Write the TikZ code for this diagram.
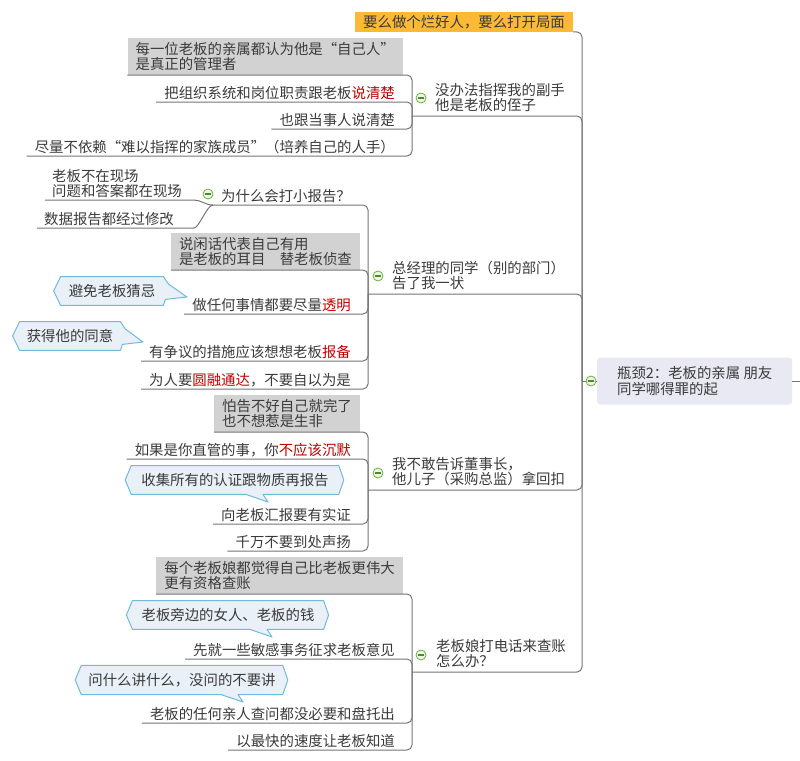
\documentclass[tikz,border=0pt]{standalone}
\usepackage{fontspec}
\usetikzlibrary{positioning,calc,backgrounds}
\newfontfamily\cjk{Noto Sans CJK SC}
\newfontfamily\cjkwide[RawFeature=+fwid]{Noto Sans CJK SC}
\newcommand\fwq[1]{{\cjkwide #1}}

\definecolor{linegray}{HTML}{747474}
\definecolor{txtgray}{HTML}{3A3A3A}
\definecolor{hl}{HTML}{C00000}
\definecolor{boxgray}{HTML}{D1D2D1}
\definecolor{orangefill}{HTML}{FBB936}
\definecolor{rootfill}{HTML}{E8E9F2}
\definecolor{notefill}{HTML}{E9F0F7}
\definecolor{noteline}{HTML}{6FBBDC}
\definecolor{mgreen}{HTML}{6AAF3D}
\definecolor{mfill}{HTML}{EEF7E6}
\definecolor{mbar}{HTML}{4A8A2A}

\tikzset{
  every node/.style={font=\cjk\fontsize{14.4}{15.4}\selectfont, text=txtgray},
  link/.style={draw=linegray, line width=1pt, rounded corners=5pt},
  topic/.style={anchor=south east, inner xsep=8pt, inner ysep=2pt, align=left},
  branch/.style={anchor=south west, inner xsep=7pt, inner ysep=4pt, align=left},
  greybox/.style={anchor=south east, fill=boxgray, inner xsep=8pt, inner ysep=4pt, align=left},
  topbox/.style={anchor=south east, fill=orangefill, inner xsep=8pt, inner ysep=3pt},
  rootbox/.style={anchor=west, fill=rootfill, rounded corners=3pt, minimum width=195pt,
    minimum height=47pt, align=left},
  notetext/.style={inner xsep=10pt, inner ysep=7.5pt},
  notebox/.style={fill=notefill, draw=noteline, line width=1pt, line join=round},
  minus/.style={circle, draw=mgreen, fill=mfill, line width=0.8pt, minimum size=10pt, inner sep=0pt,
    path picture={\draw[draw=mbar, line width=1.3pt]
      ([xshift=-2.6pt]path picture bounding box.center) -- ([xshift=2.6pt]path picture bounding box.center);}},
}

% callout with the pointer on its right side
\newcommand\notebeside[2]{%
  \begin{scope}[on background layer]
    \filldraw[notebox] ($(#1.west)+(-7,0)$) -- (#1.north west) -- (#1.north east)
      -- ($(#1.east)+(5,-7)$) -- (#2) -- ($(#1.south east)+(2,-6)$) -- (#1.south east)
      -- (#1.south west) -- cycle;
  \end{scope}}
% callout with the pointer under it
\newcommand\notebelow[2]{%
  \begin{scope}[on background layer]
    \filldraw[notebox] ($(#1.west)+(-6,0)$) -- (#1.north west) -- (#1.north east)
      -- ($(#1.east)+(5,0)$) -- (#1.south east) -- ([xshift=-5pt]#2 |- #1.south) -- (#2)
      -- ([xshift=-22pt]#2 |- #1.south) -- (#1.south west) -- cycle;
  \end{scope}}

\begin{document}
\begin{tikzpicture}[x=1pt,y=-1pt]
  \useasboundingbox (0,0) rectangle (800,760);

  % --- root and trunk ---
  \node[rootbox] (root) at (597,381) {瓶颈2：老板的亲属 朋友\\同学哪得罪的起};
  \coordinate (trunk) at (582,381);
  \coordinate (exit) at (800,381);
  \node[topbox] (top) at (573,32) {要么做个烂好人，要么打开局面};

  % --- branch 1 ---
  \coordinate (b1sp) at (412,116);
  \node[branch] (b1) at (428,116) {没办法指挥我的副手\\他是老板的侄子};
  \node[greybox] (g11) at (403,75) {每一位老板的亲属都认为他是\fwq{“}自己人\fwq{”}\\是真正的管理者};
  \node[topic] (c12) at (403,102) {把组织系统和岗位职责跟老板\textcolor{hl}{说清楚}};
  \node[topic] (c13) at (403,129) {也跟当事人说清楚};
  \node[topic] (c14) at (403,156) {尽量不依赖\fwq{“}难以指挥的家族成员\fwq{”}（培养自己的人手）};

  % --- branch 2 ---
  \coordinate (b2sp) at (368,294);
  \node[branch] (b2) at (385,294) {总经理的同学（别的部门）\\告了我一状};
  \node[topic] (c21) at (359,205) {为什么会打小报告？};
  \node[topic, anchor=south west, inner xsep=7pt] (c211) at (45,200) {老板不在现场\\问题和答案都在现场};
  \node[topic, anchor=south west, inner xsep=7pt] (c212) at (37,228) {数据报告都经过修改};
  \node[greybox] (g22) at (360,270) {说闲话代表自己有用\\是老板的耳目　替老板侦查};
  \node[topic] (c23) at (359,314) {做任何事情都要尽量\textcolor{hl}{透明}};
  \node[topic] (c24) at (359,361) {有争议的措施应该想想老板\textcolor{hl}{报备}};
  \node[topic] (c25) at (359,389) {为人要\textcolor{hl}{圆融通达}，不要自以为是};
  \node[notetext, inner xsep=8pt] (n23) at (112,291) {避免老板猜忌};
  \coordinate (t23) at (187,297);
  \node[notetext, inner xsep=7pt] (n24) at (70,336) {获得他的同意};
  \coordinate (t24) at (143,342);

  % --- branch 3 ---
  \coordinate (b3sp) at (368,490);
  \node[branch] (b3) at (385,490) {我不敢告诉董事长，\\他儿子（采购总监）拿回扣};
  \node[greybox] (g31) at (360,432) {怕告不好自己就完了\\也不想惹是生非};
  \node[topic] (c32) at (359,459) {如果是你直管的事，你\textcolor{hl}{不应该沉默}};
  \node[topic] (c33) at (359,524) {向老板汇报要有实证};
  \node[topic] (c34) at (359,551) {千万不要到处声扬};
  \node[notetext, inner xsep=10pt] (n33) at (235,480) {收集所有的认证跟物质再报告};
  \coordinate (t33) at (268,502);

  % --- branch 4 ---
  \coordinate (b4sp) at (412,672);
  \node[branch] (b4) at (429,672) {老板娘打电话来查账\\怎么办？};
  \node[greybox] (g41) at (403,594) {每个老板娘都觉得自己比老板更伟大\\更有资格查账};
  \node[topic] (c42) at (403,659) {先就一些敏感事务征求老板意见};
  \node[topic] (c43) at (403,723) {老板的任何亲人查问都没必要和盘托出};
  \node[topic] (c44) at (403,750) {以最快的速度让老板知道};
  \node[notetext, inner xsep=9pt] (n42) at (228,615) {老板旁边的女人、老板的钱};
  \coordinate (t42) at (272,637);
  \node[notetext, inner xsep=7pt] (n43) at (182,680) {问什么讲什么，没问的不要讲};
  \coordinate (t43) at (243,702);

  % --- callouts ---
  \notebeside{n23}{t23}
  \notebeside{n24}{t24}
  \notebelow{n33}{t33}
  \notebelow{n42}{t42}
  \notebelow{n43}{t43}

  % --- connectors ---
  \draw[link] (root.west) -- (trunk);
  \draw[link] (root.east) -- (exit);
  \draw[link] (trunk) |- (top.south east);
  \foreach \b in {b1sp,b2sp,b3sp,b4sp}
    \draw[link] (trunk) |- (\b);

  \foreach \c in {g11,c12,c13,c14}
    \draw[link] (b1sp) |- (\c.south west);
  \foreach \c in {c21,g22,c23,c24,c25}
    \draw[link] (b2sp) |- (\c.south west);
  \foreach \c in {g31,c32,c33,c34}
    \draw[link] (b3sp) |- (\c.south west);
  \foreach \c in {g41,c42,c43,c44}
    \draw[link] (b4sp) |- (\c.south west);

  \draw[link] (c211.south west) -- (c211.south east) .. controls +(12,0) and +(-8,0) .. (c21.south west);
  \draw[link] (c212.south west) -- ($(c212.south east)+(8,0)$) .. controls +(10,0) and +(-6,0) .. (c21.south west);

  % --- collapse markers ---
  \node[minus] (m0) at (591,381) {};
  \node[minus] (m1) at (421,98) {};
  \node[minus] (m2) at (378,276) {};
  \node[minus] (m3) at (378,473) {};
  \node[minus] (m4) at (421,655) {};
  \node[minus] (m21) at (208,194) {};
\end{tikzpicture}
\end{document}
